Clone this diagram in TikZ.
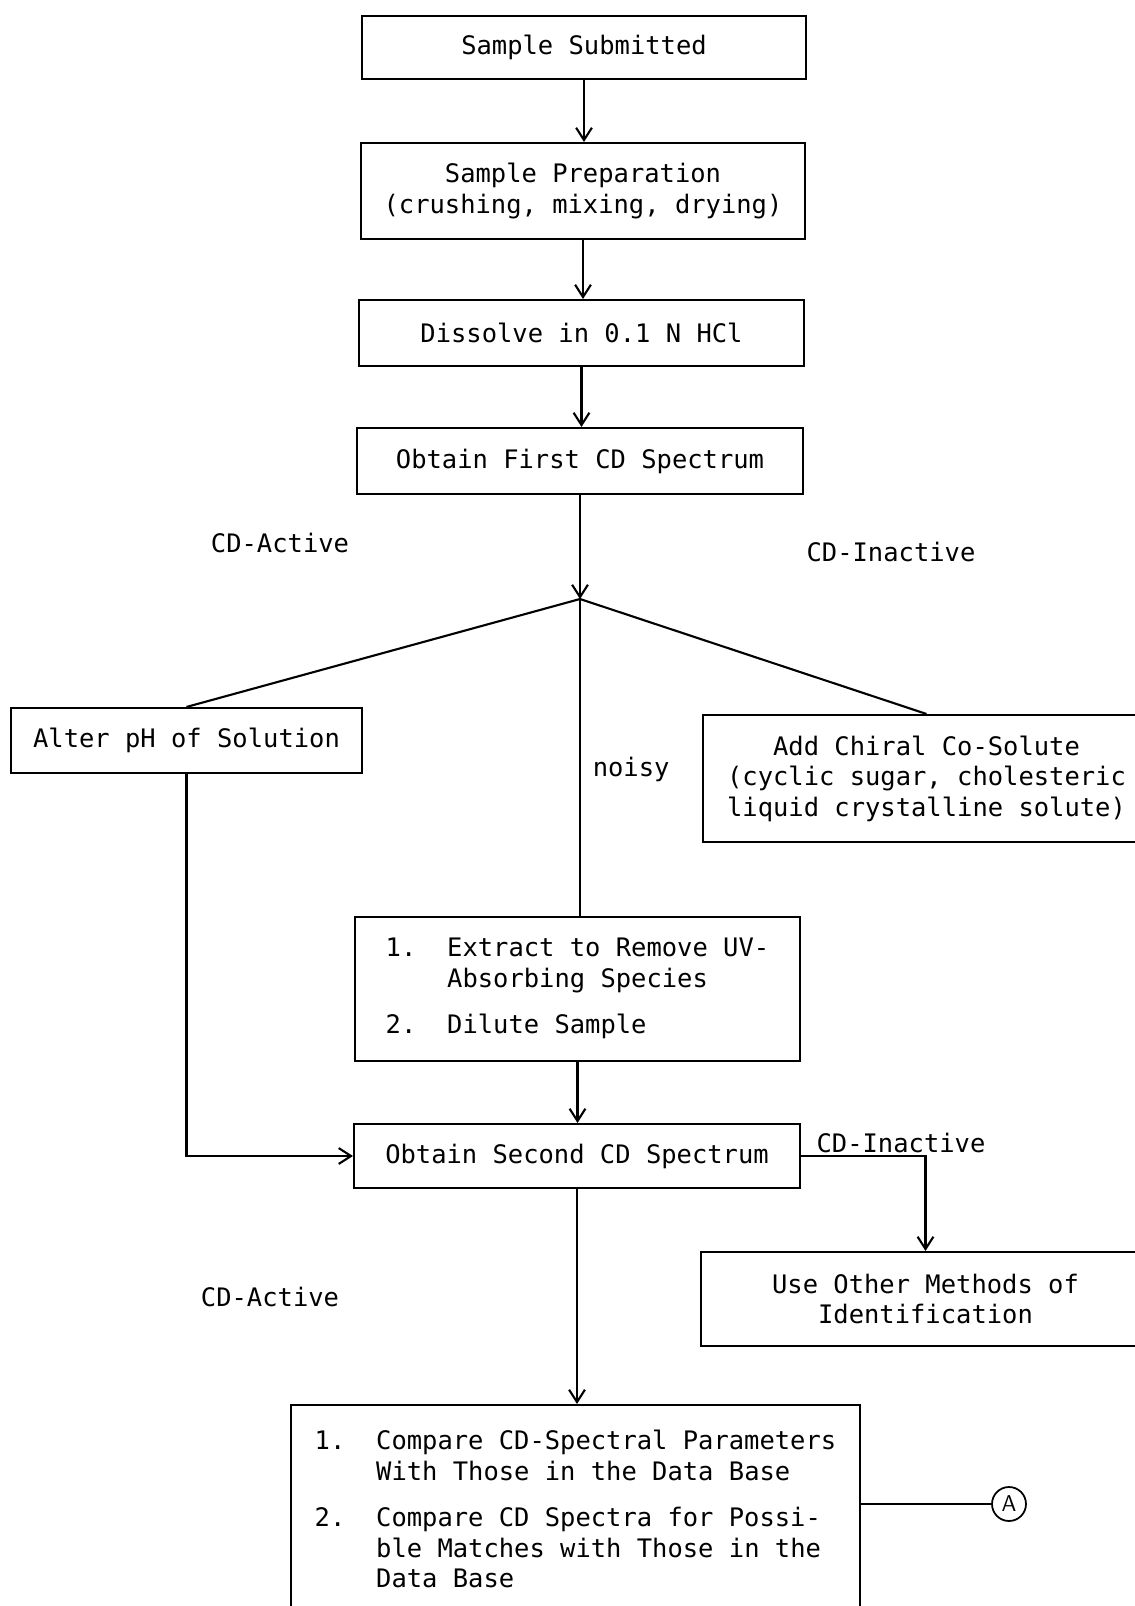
\documentclass[tikz,border=0pt]{standalone}
\usepackage{fontspec}
\setmonofont{DejaVu Sans Mono}
\usetikzlibrary{
    positioning,
    arrows.meta,
    calc
}

\begin{document}
\begin{tikzpicture}[
        x=0.02cm, y=-0.02cm,
        font=\ttfamily\fontsize{14.5}{17.4}\selectfont,
        >={Straight Barb[length=7pt, width=9pt]},
        line width=1.2pt,
        box/.style={rectangle, draw, line width=1.2pt, align=center, inner sep=0pt},
        tag/.style={inner sep=1pt},
        conn/.style={circle, draw, line width=1pt, minimum size=0.68cm, inner sep=0pt, font=\sffamily\fontsize{13}{15}\selectfont},
    ]

    % page frame, boxes on the right run off the edge
    \useasboundingbox (0,0) rectangle (1135,1606);
    \clip (0,0) rectangle (1135,1606);

    % ===== PREPARATION =====
    \node[box, minimum width=8.88cm, minimum height=1.26cm] (sub) at (584,47.5) {Sample Submitted};
    \node[box, minimum width=8.88cm, minimum height=1.92cm] (prep) at (583,191) {Sample Preparation\\(crushing, mixing, drying)};
    \node[box, minimum width=8.9cm, minimum height=1.32cm] (diss) at (581.5,333) {Dissolve in 0.1 N HCl};
    \node[box, minimum width=8.92cm, minimum height=1.32cm] (first) at (580,461) {Obtain First CD Spectrum};

    \draw[->] (sub) -- (sub |- prep.north);
    \draw[->] (prep) -- (prep |- diss.north);
    \draw[->] (diss) -- (diss |- first.north);

    % ===== FIRST SPECTRUM BRANCHES =====
    \coordinate (fork) at (580,599);
    \node[tag] (act1) at (280,543) {CD-Active};
    \node[tag] (inact1) at (891,552) {CD-Inactive};

    \node[box, minimum width=7.02cm, minimum height=1.3cm] (alter) at (186.5,740.5) {Alter pH of Solution};
    \node[box, minimum width=8.94cm, minimum height=2.54cm] (chiral) at (926.5,778.5) {Add Chiral Co-Solute\\(cyclic sugar, cholesteric\\liquid crystalline solute)};
    \node[box, minimum width=8.9cm, minimum height=2.88cm] (extract) at (577.5,989) {%
        \begin{tabular}{@{}p{1.23cm}@{}l@{}}
            1. & Extract to Remove UV-\\
               & Absorbing Species\\[0.32cm]
            2. & Dilute Sample
        \end{tabular}};
    \node[tag, anchor=west] (noisy) at (590,769) {noisy};

    \draw[->] (first) -- (fork);
    \draw (fork) -- (alter.north);
    \draw (fork) -- (chiral.north);
    \draw (fork) -- (fork |- extract.north);

    % ===== SECOND SPECTRUM =====
    \node[box, minimum width=8.92cm, minimum height=1.28cm] (second) at (577,1156) {Obtain Second CD Spectrum};
    \node[box, minimum width=8.98cm, minimum height=1.88cm] (other) at (925.5,1299) {Use Other Methods of\\Identification};
    \node[tag] (inact2) at (901,1143) {CD-Inactive};
    \node[tag] (act2) at (270,1297) {CD-Active};

    \draw[->] (extract) -- (extract |- second.north);
    \draw[->] (alter.south) |- (second.west);
    \draw[->] (second.east) -| (other.north);

    % ===== COMPARISON =====
    \node[box, minimum width=11.38cm, minimum height=4.3cm] (compare) at (575.5,1512.5) {%
        \begin{tabular}{@{}p{1.23cm}@{}l@{}}
            1. & Compare CD-Spectral Parameters\\
               & With Those in the Data Base\\[0.32cm]
            2. & Compare CD Spectra for Possi-\\
               & ble Matches with Those in the\\
               & Data Base
        \end{tabular}};
    \node[conn] (A) at (1009,1504) {A};

    \draw[->] (second) -- (second |- compare.north);
    \draw (A) -- (compare.east |- A);
\end{tikzpicture}
\end{document}
